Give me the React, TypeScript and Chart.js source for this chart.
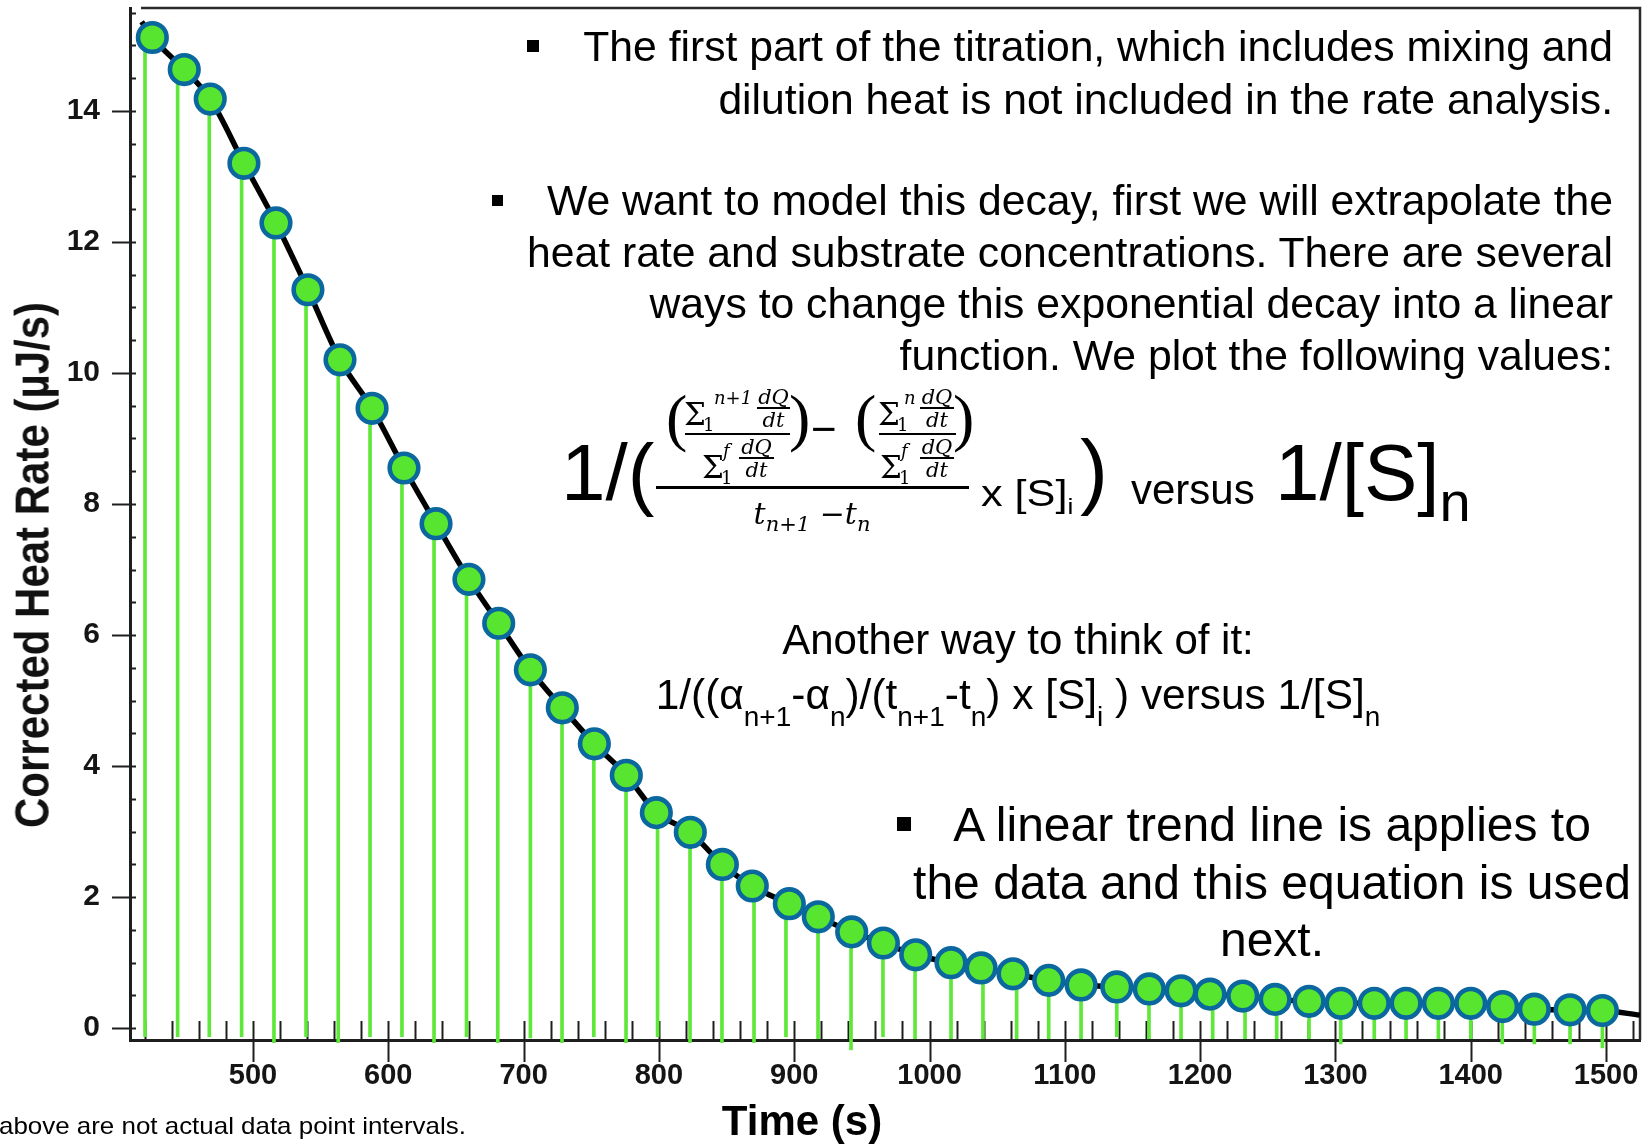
import React, { useEffect, useRef } from "react";
import { Chart, registerables } from "chart.js";

Chart.register(...registerables);

// ---------- data ----------
const pointTimes = [425.6, 449.2, 468.4, 493.3, 517.0, 540.6, 564.3, 588.0, 611.6, 635.3, 659.6, 681.6, 705.0, 728.6, 752.3, 775.9, 798.1, 823.2, 846.9, 869.0, 896.4, 917.8, 942.5, 965.9, 989.8, 1015.9, 1038.1, 1061.7, 1088.1, 1112.0, 1138.4, 1162.4, 1185.9, 1207.3, 1231.5, 1255.4, 1280.5, 1304.1, 1328.7, 1352.2, 1376.1, 1400.0, 1423.6, 1447.0, 1473.4, 1497.3];
const heatRates = [15.12, 14.63, 14.18, 13.2, 12.29, 11.27, 10.2, 9.46, 8.55, 7.7, 6.85, 6.18, 5.47, 4.89, 4.34, 3.86, 3.29, 2.99, 2.5, 2.17, 1.9, 1.7, 1.47, 1.3, 1.12, 1.0, 0.92, 0.83, 0.73, 0.66, 0.63, 0.6, 0.57, 0.52, 0.49, 0.44, 0.41, 0.38, 0.38, 0.38, 0.38, 0.38, 0.33, 0.29, 0.28, 0.27];
const stemTimes = [420.2, 444.3, 467.7, 491.6, 515.5, 539.2, 563.0, 586.5, 610.1, 633.8, 657.8, 680.9, 705.0, 728.4, 751.9, 775.7, 799.0, 823.0, 846.6, 870.3, 893.9, 917.6, 942.0, 965.6, 989.3, 1015.9, 1039.5, 1064.4, 1088.1, 1112.0, 1138.4, 1162.2, 1185.9, 1209.3, 1233.2, 1256.6, 1280.5, 1303.9, 1328.7, 1352.2, 1376.1, 1400.0, 1423.3, 1447.0, 1473.4, 1497.3];
const stemBottoms = [-0.13, -0.13, -0.13, -0.13, -0.22, -0.13, -0.22, -0.13, -0.13, -0.22, -0.13, -0.22, -0.15, -0.22, -0.13, -0.22, -0.13, -0.22, -0.22, -0.22, -0.13, -0.16, -0.33, -0.13, -0.16, -0.16, -0.16, -0.16, -0.16, -0.16, -0.13, -0.16, -0.16, -0.16, -0.16, -0.16, -0.16, -0.24, -0.16, -0.16, -0.16, -0.16, -0.24, -0.24, -0.24, -0.3];
const curveStartTime = 417.7;
const curveStartRate = 15.36;
const curveEndTime = 1525;
const curveEndRate = 0.2;

const xLabelValues = [500, 600, 700, 800, 900, 1000, 1100, 1200, 1300, 1400, 1500];
const yLabelValues = [0, 2, 4, 6, 8, 10, 12, 14];
const X_MIN = 409.1;
const X_MAX = 1525.1;
const Y_MIN = -0.18;
const Y_MAX = 15.57;
const X_MINOR_STEP = 20;
const Y_MINOR_STEP = 0.5;

const MARKER_FILL = "#58E52F";
const MARKER_EDGE = "#0A689F";
const STEM_COLOR = "#5EE83A";

const SANS = '"Liberation Sans", Arial, Helvetica, sans-serif';
const SERIF = '"DejaVu Serif", "Liberation Serif", serif';
const THIN_SERIF = '"Liberation Serif", "Times New Roman", serif';

// ---------- small text helpers ----------
type TProps = {
  x: number; b: number; s: number; a?: "l" | "c" | "r"; f?: string; i?: boolean; w?: number; sx?: number;
  children: React.ReactNode;
};
const T = ({ x, b, s, a = "l", f = SANS, i = false, w = 400, sx = 1, children }: TProps) => {
  const tr = a === "c" ? "translateX(-50%)" : a === "r" ? "translateX(-100%)" : "";
  return (
    <div
      style={{
        position: "absolute", left: x, top: b - 0.845 * s, fontFamily: f, fontSize: s,
        lineHeight: `${s}px`, fontStyle: i ? "italic" : "normal", fontWeight: w,
        whiteSpace: "nowrap", color: "#000", transform: `${tr} scaleX(${sx})`,
        transformOrigin: a === "c" ? "center" : a === "r" ? "right" : "left",
      }}
    >
      {children}
    </div>
  );
};
const Sub = ({ s, dy, f, i, children }: { s: number; dy: number; f?: string; i?: boolean; children: React.ReactNode }) => (
  <span style={{ fontSize: s, lineHeight: 0, verticalAlign: -dy, fontFamily: f, fontStyle: i ? "italic" : undefined }}>{children}</span>
);
const Rule = ({ x, y, w, h }: { x: number; y: number; w: number; h: number }) => (
  <div style={{ position: "absolute", left: x, top: y, width: w, height: h, background: "#000" }} />
);
const Square = ({ x, y, s }: { x: number; y: number; s: number }) => (
  <div style={{ position: "absolute", left: x, top: y, width: s, height: s, background: "#000" }} />
);
const MiniFrac = ({ x, y, w }: { x: number; y: number; w: number }) => (
  <>
    <T x={x + w / 2} b={y - 3} s={21} a="c" f={SERIF} i>dQ</T>
    <Rule x={x} y={y - 1} w={w} h={2} />
    <T x={x + w / 2} b={y + 20} s={21} a="c" f={SERIF} i>dt</T>
  </>
);
const SumTerm = ({ x, b, sup, supX }: { x: number; b: number; sup: string; supX: number }) => (
  <>
    <T x={x} b={b} s={31} f={SERIF}>Σ</T>
    <T x={x + 19} b={b + 6} s={18} f={SERIF}>1</T>
    <T x={supX} b={b - 21} s={18} f={SERIF} i>{sup}</T>
  </>
);

// ---------- chart plugin: frame and inward tick marks ----------
const framePlugin = {
  id: "frameTicks",
  beforeDatasetsDraw(chart: any) {
    const { ctx, chartArea: a, scales } = chart;
    const xs = scales.x;
    const ys = scales.y;
    ctx.save();
    ctx.strokeStyle = "#2a2a2a";
    ctx.lineWidth = 2.5;
    ctx.beginPath();
    ctx.moveTo(a.left + 11, a.top);
    ctx.lineTo(a.right, a.top);
    ctx.lineTo(a.right, a.bottom);
    ctx.stroke();
    ctx.strokeStyle = "#1e1e1e";
    ctx.lineWidth = 2;
    xs.ticks.forEach((t: any) => {
      const px = Math.round(xs.getPixelForValue(t.value)) + 0.5;
      const major = xLabelValues.includes(t.value);
      ctx.beginPath();
      ctx.moveTo(px, a.bottom - 19);
      ctx.lineTo(px, a.bottom + (major ? 22 : 0));
      ctx.stroke();
    });
    ys.ticks.forEach((t: any) => {
      const py = Math.round(ys.getPixelForValue(t.value)) + 0.5;
      const major = yLabelValues.includes(t.value);
      ctx.beginPath();
      ctx.moveTo(a.left - (major ? 18 : 0), py);
      ctx.lineTo(a.left + 6, py);
      ctx.stroke();
    });
    ctx.restore();
  },
};

function ChartCanvas() {
  const ref = useRef<HTMLCanvasElement | null>(null);
  useEffect(() => {
    if (!ref.current) return;
    const xTicks: number[] = [];
    for (let v = 420; v <= 1520; v += X_MINOR_STEP) xTicks.push(v);
    const yTicks: number[] = [];
    for (let v = 0; v <= 15.5; v += Y_MINOR_STEP) yTicks.push(v);

    const curve = [
      { x: curveStartTime, y: curveStartRate },
      ...pointTimes.map((t, i) => ({ x: t, y: heatRates[i] })),
      { x: curveEndTime, y: curveEndRate },
    ];

    const chart = new Chart(ref.current, {
      type: "scatter",
      data: {
        datasets: [
          {
            type: "scatter",
            label: "Corrected heat rate",
            data: pointTimes.map((t, i) => ({ x: t, y: heatRates[i] })),
            pointRadius: 14.3,
            pointBorderWidth: 4.6,
            pointBackgroundColor: MARKER_FILL,
            pointBorderColor: MARKER_EDGE,
            showLine: false,
            order: 1,
            clip: false,
          } as any,
          {
            type: "line",
            label: "Decay curve",
            data: curve,
            borderColor: "#000",
            borderWidth: 5.5,
            pointRadius: 0,
            cubicInterpolationMode: "monotone",
            order: 2,
          } as any,
          {
            type: "bar",
            label: "Intervals",
            data: stemTimes.map((t, i) => ({ x: t, y: [stemBottoms[i], heatRates[i]] })),
            backgroundColor: STEM_COLOR,
            barThickness: 3,
            order: 3,
            clip: false,
          } as any,
        ],
      },
      options: {
        responsive: false,
        animation: false,
        events: [],
        devicePixelRatio: 1,
        layout: { autoPadding: false, padding: { left: 0, top: 8, right: 8, bottom: 0 } },
        plugins: { legend: { display: false }, tooltip: { enabled: false } },
        scales: {
          x: {
            type: "linear",
            min: X_MIN,
            max: X_MAX,
            offset: false,
            afterBuildTicks: (s: any) => { s.ticks = xTicks.map((v) => ({ value: v })); },
            afterFit: (s: any) => { s.height = 104; s.paddingLeft = 0; s.paddingRight = 0; },
            ticks: {
              autoSkip: false, maxRotation: 0, minRotation: 0, padding: 19,
              font: { family: SANS, size: 29, weight: "bold" }, color: "#151515",
              callback: (v: any) => (xLabelValues.includes(Number(v)) ? String(v) : ""),
            },
            grid: { display: false, drawTicks: false, drawOnChartArea: false },
            border: { display: true, color: "#1e1e1e", width: 3 },
          },
          y: {
            type: "linear",
            min: Y_MIN,
            max: Y_MAX,
            afterBuildTicks: (s: any) => { s.ticks = yTicks.map((v) => ({ value: v })); },
            afterFit: (s: any) => { s.width = 130; s.paddingTop = 0; s.paddingBottom = 0; },
            ticks: {
              autoSkip: false, padding: 30,
              font: { family: SANS, size: 30, weight: "bold" }, color: "#151515",
              callback: (v: any) => (yLabelValues.includes(Number(v)) ? String(v) : ""),
            },
            grid: { display: false, drawTicks: false, drawOnChartArea: false },
            border: { display: true, color: "#1e1e1e", width: 3 },
          },
        },
      } as any,
      plugins: [framePlugin],
    });
    return () => chart.destroy();
  }, []);
  return (
    <canvas
      ref={ref}
      width={1648}
      height={1144}
      style={{ position: "absolute", left: 0, top: 0, width: 1648, height: 1144 }}
    />
  );
}

export default function App() {
  return (
    <div style={{ position: "absolute", left: 0, top: 0, width: 1648, height: 1144, background: "#fff", overflow: "hidden" }}>
      <ChartCanvas />

      {/* axis titles */}
      <div
        style={{
          position: "absolute", left: 33, top: 565, fontFamily: SANS, fontWeight: 700, fontSize: 42,
          lineHeight: "42px", whiteSpace: "nowrap", color: "#111",
          transform: "translate(-50%, -50%) rotate(-90deg) scaleY(1.14)",
        }}
      >
        Corrected Heat Rate (µJ/s)
      </div>
      <T x={802} b={1135} s={42} a="c" w={700}>Time (s)</T>

      {/* footnote */}
      <T x={-1} b={1134} s={24} sx={1.08}>above are not actual data point intervals.</T>

      {/* block 1 */}
      <Square x={527} y={40} s={12} />
      <T x={1613} b={61.5} s={42.7} a="r">The first part of the titration, which includes mixing and</T>
      <T x={1613} b={114} s={42.7} a="r">dilution heat is not included in the rate analysis.</T>

      {/* block 2 */}
      <Square x={492} y={195} s={11} />
      <T x={1613} b={215} s={42.7} a="r">We want to model this decay, first we will extrapolate the</T>
      <T x={1613} b={266.7} s={42.7} a="r">heat rate and substrate concentrations. There are several</T>
      <T x={1613} b={318.3} s={42.7} a="r">ways to change this exponential decay into a linear</T>
      <T x={1613} b={370} s={42.7} a="r">function. We plot the following values:</T>

      {/* formula */}
      <T x={561} b={501} s={80}>1/(</T>
      <T x={666} b={440} s={64} f={THIN_SERIF}>(</T>
      <SumTerm x={684} b={425} sup="n+1" supX={714} />
      <MiniFrac x={757} y={408} w={33} />
      <Rule x={685} y={433} w={105} h={2} />
      <SumTerm x={702} b={478} sup="f" supX={723} />
      <MiniFrac x={739} y={458} w={35} />
      <T x={789} b={440} s={64} f={THIN_SERIF}>)</T>
      <T x={811} b={444} s={44}>−</T>
      <T x={855} b={440} s={64} f={THIN_SERIF}>(</T>
      <SumTerm x={878} b={425} sup="n" supX={904} />
      <MiniFrac x={920} y={408} w={34} />
      <Rule x={879} y={433} w={77} h={2} />
      <SumTerm x={880} b={478} sup="f" supX={901} />
      <MiniFrac x={920} y={458} w={34} />
      <T x={953} b={440} s={64} f={THIN_SERIF}>)</T>
      <Rule x={656} y={485.5} w={313} h={3} />
      <T x={812} b={524} s={30} a="c" f={SERIF} i>
        t<Sub s={21} dy={7} f={SERIF} i>n+1</Sub> −t<Sub s={21} dy={7} f={SERIF} i>n</Sub>
      </T>
      <T x={981} b={506} s={36} sx={1.2}>x [S]<Sub s={22} dy={8}>i</Sub></T>
      <T x={1080} b={499} s={84}>)</T>
      <T x={1131} b={504} s={42}>versus</T>
      <T x={1275} b={501} s={80}>1/[S]<Sub s={56} dy={21}>n</Sub></T>

      {/* another way */}
      <T x={1018} b={654} s={42} a="c">Another way to think of it:</T>
      <T x={1018} b={710} s={42.4} a="c">
        1/((α<Sub s={28} dy={17}>n+1</Sub>-α<Sub s={28} dy={17}>n</Sub>)/(t<Sub s={28} dy={17}>n+1</Sub>-t
        <Sub s={28} dy={17}>n</Sub>) x [S]<Sub s={28} dy={17}>i</Sub> ) versus 1/[S]<Sub s={28} dy={17}>n</Sub>
      </T>

      {/* block 3 */}
      <Square x={897} y={817} s={14} />
      <T x={1272} b={841.7} s={48} a="c">A linear trend line is applies to</T>
      <T x={1272} b={899.3} s={48} a="c">the data and this equation is used</T>
      <T x={1272} b={956.7} s={48} a="c">next.</T>
    </div>
  );
}
